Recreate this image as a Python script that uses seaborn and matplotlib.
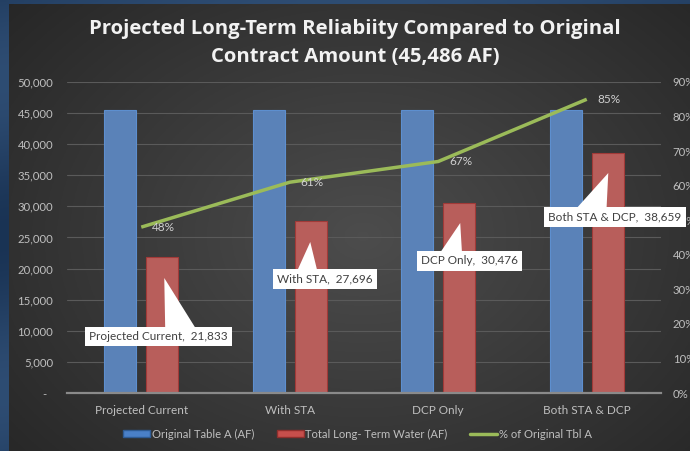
import numpy as np
import pandas as pd
import matplotlib
matplotlib.use("Agg")
import matplotlib.pyplot as plt
from matplotlib.lines import Line2D
from matplotlib.patches import Patch, Polygon
from matplotlib.transforms import IdentityTransform
import seaborn as sns

# ---- data ----
categories = ["Projected Current", "With STA", "DCP Only", "Both STA & DCP"]
original_table_a = [45486, 45486, 45486, 45486]
total_long_term = [21833, 27696, 30476, 38659]
pct_of_original = [0.48, 0.61, 0.67, 0.85]
series_names = ["Original Table A (AF)", "Total Long- Term Water (AF)", "% of Original Tbl A"]
left_ticks = [0, 5000, 10000, 15000, 20000, 25000, 30000, 35000, 40000, 45000, 50000]
right_ticks = [0, 0.1, 0.2, 0.3, 0.4, 0.5, 0.6, 0.7, 0.8, 0.9]

sns.set_theme(style="white")
plt.rcParams["font.family"] = ["Lato", "DejaVu Sans"]

W, H = 690, 451
fig = plt.figure(figsize=(W / 100, H / 100), dpi=100)

# background (blue) and dark frame with radial gradient
bg = fig.add_axes([0, 0, 1, 1], zorder=-10)
yy, xx = np.mgrid[0:1:200j, 0:1:200j]
blue = np.zeros((200, 200, 3))
g = 0.5 + 0.5 * np.sin(yy * 9 + xx * 3)
blue[..., 0] = 0.10 + 0.08 * g
blue[..., 1] = 0.20 + 0.10 * g
blue[..., 2] = 0.33 + 0.12 * g
bg.imshow(blue, extent=[0, 1, 0, 1], aspect="auto")
bg.axis("off")

fx0, fy1 = 9 / W, 1 - 4 / H
frame = fig.add_axes([fx0, 0, 1 - fx0, fy1], zorder=-9)
yy, xx = np.mgrid[0:1:300j, 0:1:300j]
r = np.sqrt(((xx - 0.52) / 0.75) ** 2 + ((yy - 0.52) / 0.85) ** 2)
v = np.clip(0.30 - 0.16 * r, 0.14, 0.30)
frame.imshow(np.dstack([v, v, v]), extent=[0, 1, 0, 1], aspect="auto")
frame.axis("off")

# main axes
L, R, T, B = 67, 661, 82, 393
ax = fig.add_axes([L / W, 1 - B / H, (R - L) / W, (B - T) / H])
ax.set_facecolor("none")

df = pd.DataFrame({
    "category": categories * 2,
    "value": original_table_a + total_long_term,
    "series": [series_names[0]] * 4 + [series_names[1]] * 4,
})
blue_c, red_c, green_c = "#4a80c8", "#c74f4c", "#9bbb59"
sns.barplot(data=df, x="category", y="value", hue="series", order=categories,
            hue_order=series_names[:2], palette=[blue_c, red_c], width=0.565, gap=0.24,
            ax=ax, legend=False, zorder=3)
for i, p in enumerate(ax.patches):
    if i < 4:
        p.set_edgecolor("#5d8fcf")
    else:
        p.set_edgecolor("#a13a38")
    p.set_linewidth(0.8)

ax.set_xlim(-0.5, 3.5)
ax.set_ylim(0, 50000)
ax.set_yticks(left_ticks)
ax.set_yticklabels(["-  " if t == 0 else f"{t:,}" for t in left_ticks])
ax.grid(axis="y", color="#5a5a5a", linewidth=0.8, zorder=0)
ax.set_axisbelow(True)
for s in ["top", "right", "left"]:
    ax.spines[s].set_visible(False)
ax.spines["bottom"].set_color("#8a8a8a")
ax.spines["bottom"].set_linewidth(1.6)
ax.spines["bottom"].set_zorder(5)
ax.tick_params(axis="y", colors="#bfbfbf", labelsize=8.2, length=0, pad=10)
ax.tick_params(axis="x", colors="#bfbfbf", labelsize=8.5, length=0, pad=9)
ax.set_xlabel("")
ax.set_ylabel("")

# secondary axis with line
ax2 = ax.twinx()
line_df = pd.DataFrame({"x": np.arange(len(categories)), "pct": pct_of_original})
sns.lineplot(data=line_df, x="x", y="pct", ax=ax2, color=green_c, linewidth=2.5,
             zorder=6, solid_capstyle="butt")
ax2.set_ylim(0, 0.9)
ax2.set_xlim(-0.5, 3.5)
ax2.set_yticks(right_ticks)
ax2.set_yticklabels([f"{int(round(t * 100))}%" for t in right_ticks])
ax2.tick_params(axis="y", colors="#bfbfbf", labelsize=8.2, length=0, pad=8.5)
ax2.set_ylabel("")
ax2.set_xlabel("")
for s in ax2.spines.values():
    s.set_visible(False)
ax2.grid(False)
for i, p in enumerate(pct_of_original):
    ax2.annotate(f"{int(round(p * 100))}%", (i, p), xytext=(8, 0), textcoords="offset points",
                 ha="left", va="center", color="#d0d0d0", fontsize=8.5, zorder=7)

# callouts: white box + wedge pointing to the red bar
box_pos = [(0.118, 9084), (1.236, 18328), (2.212, 21222), (3.189, 28296)]
tips = [(0.155, 18489), (1.138, 24277), (2.148, 27331), (3.145, 35370)]
base_dx = [(6.5, 39.5), (-29.5, -6.5), (-32.5, -7.5), (-42.5, -8.5)]  # px from box centre
ident = IdentityTransform()
for i, cat in enumerate(categories):
    bx, by = ax2.transData.transform((box_pos[i][0], box_pos[i][1] / 50000 * 0.9))
    tx, ty = ax2.transData.transform((tips[i][0], tips[i][1] / 50000 * 0.9))
    poly = Polygon([(tx, ty), (bx + base_dx[i][0], by + 4), (bx + base_dx[i][1], by + 4)],
                   closed=True, fc="white", ec="none", transform=ident, zorder=9)
    ax2.add_patch(poly)
    ax2.text(box_pos[i][0], box_pos[i][1] / 50000 * 0.9, f"{cat},  {total_long_term[i]:,}",
             ha="center", va="center", fontsize=8.5, color="#404040", zorder=10,
             bbox=dict(boxstyle="square,pad=0.35", fc="white", ec="none"))

# title
fig.text(355 / W, 1 - 34 / H, "Projected Long-Term Reliabiity Compared to Original",
         ha="center", va="baseline", color="#f2f2f2", fontsize=14.6,
         fontweight="bold", family=["Open Sans", "DejaVu Sans"])
fig.text(355 / W, 1 - 62 / H, "Contract Amount (45,486 AF)",
         ha="center", va="baseline", color="#f2f2f2", fontsize=14.6,
         fontweight="bold", family=["Open Sans", "DejaVu Sans"])

# legend
handles = [Patch(facecolor=blue_c, edgecolor="#2e5b94"),
           Patch(facecolor=red_c, edgecolor="#8f2f2d"),
           Line2D([0], [0], color=green_c, linewidth=2.5)]
leg = fig.legend(handles, series_names, loc="center", bbox_to_anchor=(357.5 / W, 1 - 434 / H),
                 ncol=3, frameon=False, fontsize=8.1, handlelength=2.4, handleheight=0.5,
                 handletextpad=0.15, columnspacing=2.0, labelcolor="#bfbfbf")

fig.savefig("out.png", dpi=100)
